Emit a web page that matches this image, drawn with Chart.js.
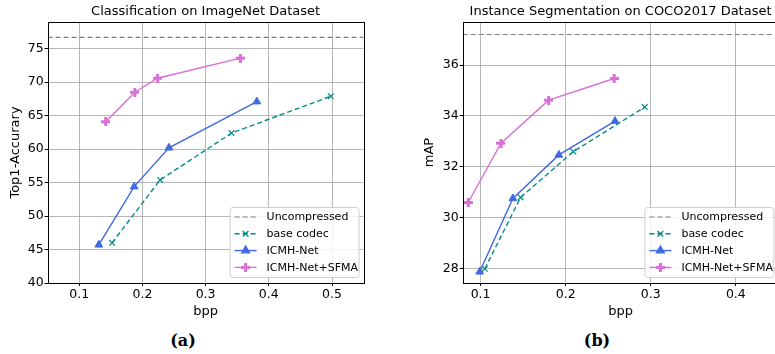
<!DOCTYPE html>
<html>
<head>
<meta charset="utf-8">
<script src="https://cdn.jsdelivr.net/npm/chart.js@4.4.1/dist/chart.umd.min.js"></script>
<style>
  html, body { margin: 0; padding: 0; width: 775px; height: 354px; overflow: hidden; background: #fff; }
  canvas { position: absolute; top: 0; }
  #chartA { left: 0; }
  #chartB { left: 385px; }
  .sub { position: absolute; top: 331px; font: bold 16px "DejaVu Serif", serif; color: #000; transform: translateX(-50%); }
</style>
</head>
<body>
<canvas id="chartA" width="370" height="322"></canvas>
<canvas id="chartB" width="400" height="322"></canvas>
<div class="sub" style="left:183px">(a)</div>
<div class="sub" style="left:597px">(b)</div>
<script>
// (a) classification on ImageNet
const xTicksA = [0.1, 0.2, 0.3, 0.4, 0.5];
const yTicksA = [40, 45, 50, 55, 60, 65, 70, 75];
const uncompressedA = 76.7;
const baseBppA = [0.152, 0.228, 0.341, 0.498];
const baseAccA = [46.0, 55.4, 62.4, 67.9];
const netBppA = [0.131, 0.187, 0.242, 0.381];
const netAccA = [45.7, 54.4, 60.2, 67.1];
const sfmaBppA = [0.142, 0.188, 0.224, 0.355];
const sfmaAccA = [64.1, 68.5, 70.6, 73.6];

// (b) instance segmentation on COCO2017
const xTicksB = [0.1, 0.2, 0.3, 0.4];
const yTicksB = [28, 30, 32, 34, 36];
const uncompressedB = 37.2;
const baseBppB = [0.105, 0.147, 0.209, 0.293];
const baseMapB = [28.0, 30.8, 32.6, 34.35];
const netBppB = [0.099, 0.138, 0.192, 0.258];
const netMapB = [27.88, 30.76, 32.47, 33.8];
const sfmaBppB = [0.0855, 0.124, 0.18, 0.257];
const sfmaMapB = [30.6, 32.93, 34.62, 35.47];

const FONT = 'DejaVu Sans';
const GRAY = '#808080';
const TEAL = '#008b8b';
const BLUE = '#4169e1';
const ORCHID = '#da70d6';
const GRID = 'rgba(165,165,165,0.8)';

// filled plus marker (matplotlib 'P')
function plusMarker(color) {
  const c = document.createElement('canvas');
  c.width = 9; c.height = 9;
  const g = c.getContext('2d');
  g.fillStyle = color;
  g.fillRect(3, 0, 3, 9);
  g.fillRect(0, 3, 9, 3);
  return c;
}
const plusImg = plusMarker(ORCHID);

function pts(xs, ys) {
  return xs.map((x, i) => ({ x: x, y: ys[i] }));
}

const frame = {
  id: 'frame',
  afterDraw(chart) {
    const a = chart.chartArea, ctx = chart.ctx;
    ctx.save();
    ctx.strokeStyle = '#000';
    ctx.lineWidth = 1;
    ctx.strokeRect(Math.round(a.left) + 0.5, Math.round(a.top) + 0.5,
      Math.round(a.right - a.left), Math.round(a.bottom - a.top));
    ctx.restore();
  }
};

function drawMarker(ctx, ds, x, y) {
  if (ds.pointStyle === false || ds.pointRadius === 0) return;
  if (ds.pointStyle instanceof HTMLCanvasElement) {
    ctx.drawImage(ds.pointStyle, x - 4.5, y - 4.5);
    return;
  }
  Chart.helpers.drawPoint(ctx, {
    pointStyle: ds.pointStyle, radius: ds.pointRadius, rotation: 0,
    borderWidth: ds.pointBorderWidth || 1
  }, x, y);
}

const legendBox = {
  id: 'legendBox',
  afterDatasetsDraw(chart) {
    const a = chart.chartArea, ctx = chart.ctx;
    const w = 129, h = 70;
    const left = a.right - 5 - w, top = a.bottom - 6 - h;
    ctx.save();
    ctx.fillStyle = 'rgba(255,255,255,0.85)';
    ctx.strokeStyle = '#d0d0d0';
    ctx.lineWidth = 1;
    ctx.beginPath();
    ctx.roundRect(left + 0.5, top + 0.5, w, h, 3);
    ctx.fill();
    ctx.stroke();
    ctx.font = '11px "' + FONT + '"';
    ctx.textBaseline = 'middle';
    chart.data.datasets.forEach((ds, i) => {
      const y = top + 10 + i * 16.8;
      ctx.strokeStyle = ds.borderColor;
      ctx.fillStyle = ds.borderColor;
      ctx.lineWidth = ds.borderWidth;
      ctx.setLineDash(ds.borderDash || []);
      ctx.beginPath();
      ctx.moveTo(left + 5, y);
      ctx.lineTo(left + 27, y);
      ctx.stroke();
      ctx.setLineDash([]);
      ctx.strokeStyle = ds.pointBorderColor || ds.borderColor;
      ctx.fillStyle = ds.pointBackgroundColor || ds.borderColor;
      drawMarker(ctx, ds, left + 16, y);
      ctx.fillStyle = '#000';
      ctx.fillText(ds.label, left + 37, y + 0.5);
    });
    ctx.restore();
  }
};

function makeChart(id, o) {
  const font = { family: FONT, size: 12.5 };
  const labelFont = { family: FONT, size: 13 };
  return new Chart(document.getElementById(id), {
    type: 'line',
    data: {
      datasets: [
        {
          label: 'Uncompressed',
          data: [{ x: o.xMin, y: o.unc }, { x: o.xMax, y: o.unc }],
          borderColor: GRAY, borderWidth: 1.2, borderDash: [5, 3],
          pointRadius: 0, pointStyle: false
        },
        {
          label: 'base codec',
          data: pts(o.baseX, o.baseY),
          borderColor: TEAL, borderWidth: 1.4, borderDash: [5, 3],
          pointStyle: 'crossRot', pointRadius: 4, pointBorderWidth: 1.2,
          pointBorderColor: TEAL, pointBackgroundColor: TEAL
        },
        {
          label: 'ICMH-Net',
          data: pts(o.netX, o.netY),
          borderColor: BLUE, borderWidth: 1.4,
          pointStyle: 'triangle', pointRadius: 4.5, pointBorderWidth: 1,
          pointBorderColor: BLUE, pointBackgroundColor: BLUE
        },
        {
          label: 'ICMH-Net+SFMA',
          data: pts(o.sfmaX, o.sfmaY),
          borderColor: ORCHID, borderWidth: 1.4,
          pointStyle: plusImg, pointRadius: 5,
          pointBorderColor: ORCHID, pointBackgroundColor: ORCHID
        }
      ]
    },
    options: {
      responsive: false,
      animation: false,
      layout: { padding: { left: o.padLeft, right: o.padRight, top: 0, bottom: 0 } },
      plugins: {
        legend: { display: false },
        tooltip: { enabled: false },
        title: {
          display: true, text: o.title, fullSize: false, color: '#000',
          font: { family: FONT, size: 13, weight: 'normal' }, padding: { top: 4, bottom: 2.4 }
        }
      },
      scales: {
        x: {
          type: 'linear', min: o.xMin, max: o.xMax,
          afterBuildTicks: s => { s.ticks = o.xTicks.map(v => ({ value: v })); },
          afterFit: s => { s.height = 39; },
          ticks: { font: font, color: '#000', padding: 1, maxRotation: 0, callback: v => v.toFixed(1) },
          grid: { color: GRID, tickColor: '#000', tickLength: 3 },
          border: { display: false },
          title: { display: true, text: 'bpp', font: labelFont, color: '#000', padding: { top: 2, bottom: 3 } }
        },
        y: {
          type: 'linear', min: o.yMin, max: o.yMax,
          afterBuildTicks: s => { s.ticks = o.yTicks.map(v => ({ value: v })); },
          afterFit: s => { s.width = o.yWidth; },
          ticks: { font: font, color: '#000', padding: 1 },
          grid: { color: GRID, tickColor: '#000', tickLength: 3 },
          border: { display: false },
          title: { display: true, text: o.yTitle, font: labelFont, color: '#000', padding: { top: 2, bottom: 2 } }
        }
      }
    },
    plugins: [frame, legendBox]
  });
}

makeChart('chartA', {
  title: 'Classification on ImageNet Dataset', yTitle: 'Top1-Accurary',
  xMin: 0.05, xMax: 0.55, yMin: 40, yMax: 79,
  xTicks: xTicksA, yTicks: yTicksA, unc: uncompressedA,
  baseX: baseBppA, baseY: baseAccA, netX: netBppA, netY: netAccA, sfmaX: sfmaBppA, sfmaY: sfmaAccA,
  padLeft: 6, padRight: 6.4, yWidth: 41.6
});

makeChart('chartB', {
  title: 'Instance Segmentation on COCO2017 Dataset', yTitle: 'mAP',
  xMin: 0.079, xMax: 0.45, yMin: 27.44, yMax: 37.69,
  xTicks: xTicksB, yTicks: yTicksB, unc: uncompressedB,
  baseX: baseBppB, baseY: baseMapB, netX: netBppB, netY: netMapB, sfmaX: sfmaBppB, sfmaY: sfmaMapB,
  padLeft: 35, padRight: 6.6, yWidth: 42.7
});
</script>
</body>
</html>
